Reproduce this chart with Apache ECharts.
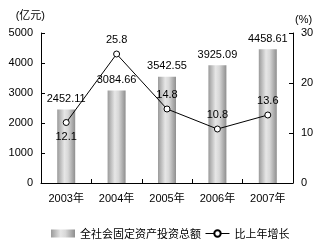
<!DOCTYPE html>
<html><head><meta charset="utf-8">
<script src="https://cdn.jsdelivr.net/npm/echarts@6/dist/echarts.min.js"></script>
<style>html,body{margin:0;padding:0;background:#fff}#c{width:323px;height:248px}</style>
</head><body><div id="c"></div>
<script>
const categories = ['2003年','2004年','2005年','2006年','2007年'];
const investment = [2452.11, 3084.66, 3542.55, 3925.09, 4458.61];
const growth = [12.1, 25.8, 14.8, 10.8, 13.6];
const growthLabelPos = ['bottom','top','top','top','top'];

const font = "'Liberation Sans', 'Noto Sans CJK SC', sans-serif";
const chart = echarts.init(document.getElementById('c'));
chart.setOption({
  animation:false,
  textStyle:{fontFamily:font},
  grid:{left:41,right:30,top:33,bottom:65},
  legend:{
    bottom:4,left:46,itemGap:4,itemWidth:24,itemHeight:8,
    lineStyle:{width:1},
    textStyle:{fontSize:11,color:'#000',fontFamily:"'Noto Sans CJK SC', sans-serif"},
    data:[{name:'全社会固定资产投资总额',icon:'rect'},{name:'比上年增长'}]
  },
  xAxis:{
    type:'category',data:categories,
    axisLine:{lineStyle:{color:'#000'}},
    axisTick:{show:true,inside:true,length:4,lineStyle:{color:'#000'}},
    axisLabel:{color:'#000',fontSize:11,margin:10,fontFamily:font}
  },
  yAxis:[
    {type:'value',min:0,max:5000,interval:1000,name:'(亿元)',
     nameTextStyle:{color:'#000',fontSize:11,align:'right',padding:[0,-4,2,0]},
     nameGap:10,
     axisLine:{show:true,lineStyle:{color:'#000'}},
     axisTick:{show:true,inside:true,length:4,lineStyle:{color:'#000'}},
     axisLabel:{color:'#000',fontSize:11,margin:8,formatter:v=>String(v)},
     splitLine:{show:false}},
    {type:'value',min:0,max:30,interval:10,name:'(%)',
     nameTextStyle:{color:'#000',fontSize:11,align:'left',padding:[0,0,2,2]},
     nameGap:6,
     axisLine:{show:true,lineStyle:{color:'#000'}},
     axisTick:{show:true,inside:true,length:4,lineStyle:{color:'#000'}},
     axisLabel:{color:'#000',fontSize:11,margin:8},
     splitLine:{show:false}}
  ],
  series:[
    {name:'全社会固定资产投资总额',type:'bar',data:investment,barWidth:18,
     itemStyle:{color:new echarts.graphic.LinearGradient(0,0,1,0,[
       {offset:0,color:'#9a9a9a'},{offset:0.4,color:'#e6e6e6'},{offset:0.6,color:'#d8d8d8'},{offset:1,color:'#8e8e8e'}])},
     label:{show:true,position:'top',distance:5,color:'#000',fontSize:11,formatter:p=>p.value.toFixed(2)}},
    {name:'比上年增长',type:'line',yAxisIndex:1,data:growth.map((v,i)=>({value:v,label:{position:growthLabelPos[i]}})),
     symbol:'circle',symbolSize:6,
     lineStyle:{color:'#000',width:1},
     itemStyle:{color:'#fff',borderColor:'#000',borderWidth:1},
     label:{show:true,color:'#000',fontSize:11,distance:5}}
  ]
});
</script></body></html>
